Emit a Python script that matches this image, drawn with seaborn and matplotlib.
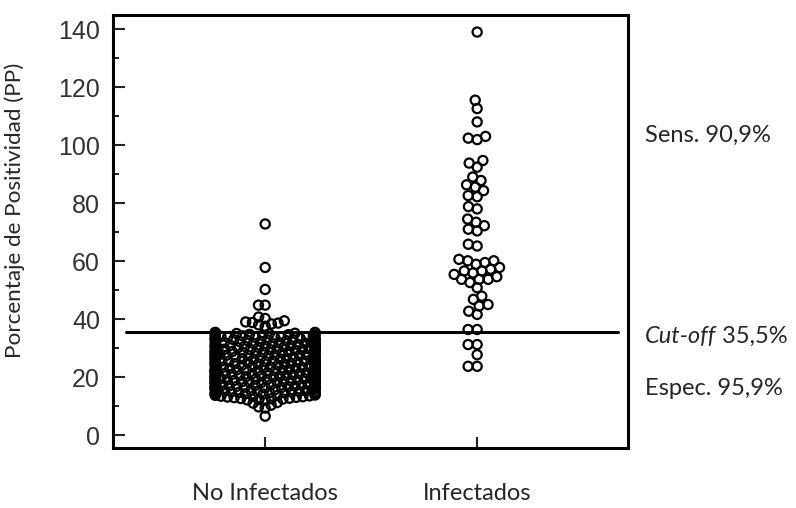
#%%
import numpy as np
import pandas as pd
import matplotlib.pyplot as plt
import seaborn as sns

#%%
# Datos (Porcentaje de Positividad)
grupos = ["No Infectados", "Infectados"]

pp_no_infectados = [
    6.5, 9.3, 9.7, 10.3, 11.0, 11.2,
    12.0, 12.1, 12.2, 12.4, 12.5, 12.6, 12.7, 12.9,
    13.0, 13.1, 13.2, 13.3, 13.4, 13.5, 13.6, 13.7, 13.8, 13.9,
    14.0, 14.1, 14.2, 14.3, 14.3, 14.4, 14.5, 14.6, 14.7, 14.8, 14.9, 14.9,
    15.0, 15.0, 15.1, 15.2, 15.3, 15.4, 15.5, 15.6, 15.7, 15.8, 15.9, 15.9,
    16.0, 16.0, 16.1, 16.2, 16.3, 16.4, 16.5, 16.5, 16.6, 16.7, 16.8, 16.9, 16.9,
    17.0, 17.0, 17.1, 17.2, 17.3, 17.3, 17.4, 17.5, 17.6, 17.7, 17.8, 17.8, 17.9, 17.9,
    18.0, 18.0, 18.1, 18.2, 18.2, 18.3, 18.4, 18.5, 18.5, 18.6, 18.7, 18.8, 18.8, 18.9, 18.9,
    19.0, 19.0, 19.1, 19.2, 19.2, 19.3, 19.4, 19.5, 19.5, 19.6, 19.7, 19.8, 19.8, 19.9, 19.9,
    20.0, 20.0, 20.1, 20.2, 20.2, 20.3, 20.4, 20.5, 20.5, 20.6, 20.7, 20.8, 20.8, 20.9, 20.9,
    21.0, 21.0, 21.1, 21.2, 21.3, 21.4, 21.5, 21.5, 21.6, 21.7, 21.8, 21.8, 21.9, 21.9,
    22.0, 22.0, 22.1, 22.2, 22.3, 22.4, 22.5, 22.5, 22.6, 22.7, 22.8, 22.9, 22.9,
    23.0, 23.0, 23.1, 23.2, 23.3, 23.4, 23.5, 23.5, 23.6, 23.7, 23.8, 23.9, 23.9,
    24.0, 24.1, 24.2, 24.3, 24.4, 24.5, 24.5, 24.6, 24.7, 24.8, 24.9, 24.9,
    25.0, 25.1, 25.2, 25.3, 25.4, 25.5, 25.5, 25.6, 25.7, 25.8, 25.9, 25.9,
    26.0, 26.1, 26.2, 26.3, 26.4, 26.5, 26.5, 26.6, 26.7, 26.8, 26.9, 26.9,
    27.0, 27.1, 27.2, 27.3, 27.4, 27.5, 27.5, 27.6, 27.7, 27.8, 27.9, 27.9,
    28.0, 28.1, 28.2, 28.3, 28.4, 28.5, 28.5, 28.6, 28.7, 28.8, 28.9, 28.9,
    29.0, 29.1, 29.2, 29.3, 29.4, 29.5, 29.5, 29.6, 29.7, 29.8, 29.9, 29.9,
    30.0, 30.1, 30.2, 30.3, 30.4, 30.5, 30.5, 30.6, 30.7, 30.8, 30.9, 30.9,
    31.0, 31.1, 31.2, 31.3, 31.4, 31.5, 31.6, 31.7, 31.8, 31.9, 31.9,
    32.0, 32.1, 32.2, 32.3, 32.4, 32.5, 32.6, 32.7, 32.8, 32.9, 32.9,
    33.0, 33.1, 33.2, 33.3, 33.4, 33.5, 33.6, 33.7, 33.8, 33.9, 33.9,
    34.0, 34.1, 34.2, 34.3, 34.4, 34.5, 34.6, 34.7, 34.8, 34.9,
    35.0, 35.1, 35.2, 35.3, 35.4, 35.4,
    37.5, 38.0, 38.3, 38.6, 38.8, 39.0, 39.4, 40.2, 40.7,
    44.8, 44.8, 50.2, 57.8, 72.8,
]

pp_infectados = [
    139.0, 115.5, 112.6, 108.0, 103.0, 102.4, 101.9,
    94.7, 93.8, 92.4, 89.0, 87.8, 86.3, 85.5, 84.3, 82.6, 82.2,
    78.8, 78.0, 74.5, 73.4, 72.2, 71.0, 70.4, 65.8, 65.2,
    60.6, 60.1, 60.1, 59.5, 58.9, 57.8, 57.2, 56.6, 56.6, 55.9, 55.4,
    54.6, 53.7, 53.7, 53.7, 52.6, 50.8, 47.9, 46.8, 45.0, 44.5, 42.7, 41.6,
    36.4, 36.4, 31.2, 31.2, 27.7, 23.7, 23.7,
]

cut_off = 35.5
textos = ["Sens. 90,9%", "Espec. 95,9%"]

#%%
sns.set_style("ticks")
plt.rcParams["font.family"] = ["Lato", "DejaVu Sans"]

fig, ax = plt.subplots(figsize=(7.96, 5.08), dpi=100)
fig.subplots_adjust(left=0.142, right=0.789, bottom=0.118, top=0.970)

# separacion entre grupos (el enjambre ocupa 0.8 unidades)
posicion = {"No Infectados": 0.0, "Infectados": 1.7}
# tamano usado para acomodar el enjambre (mas chico = puntos encimados)
tam_enjambre = {"No Infectados": 3.0, "Infectados": 4.6}
tam_marcador = 6.6

for grupo, valores in zip(grupos, [pp_no_infectados, pp_infectados]):
    df = pd.DataFrame({"x": posicion[grupo], "pp": valores})
    sns.swarmplot(data=df, x="x", y="pp", native_scale=True, orient="x",
                  size=tam_enjambre[grupo], color="white", edgecolor="black",
                  linewidth=1.6, warn_thresh=1, ax=ax)

ax.axhline(cut_off, xmin=0.025, xmax=0.98, color="black", lw=2.2)

ax.set_xlim(-1.22, 2.91)
ax.set_ylim(-4.5, 144.8)
ax.set_xticks([posicion[g] for g in grupos], grupos)
ax.set_yticks(range(0, 141, 20))
ax.set_yticks(range(10, 140, 20), minor=True)
ax.set_xlabel("")
ax.set_ylabel("Porcentaje de Positividad (PP)", fontsize=16.2, color="#262626")
ax.yaxis.set_label_coords(-0.17, 0.55)

for s in ax.spines.values():
    s.set_visible(True)
    s.set_linewidth(2.2)
    s.set_color("black")

ax.tick_params(axis="y", which="major", direction="in", length=8.6, width=1.5,
               pad=9.4, labelsize=18, labelcolor="#333333")
ax.tick_params(axis="y", which="minor", direction="in", length=4.3, width=1.5)
ax.tick_params(axis="x", direction="in", length=8, width=1.5, pad=25,
               labelsize=17, labelcolor="#262626")
for lbl in ax.get_yticklabels():
    lbl.set_fontfamily("Liberation Sans")

trans = ax.get_yaxis_transform()
ax.text(1.033, 103.4, textos[0], transform=trans, va="center", ha="left",
        fontsize=17, color="#262626", clip_on=False)
t = ax.text(1.033, 34.0, "Cut-off", transform=trans, va="center", ha="left",
            fontsize=17, style="italic", color="#262626", clip_on=False)
ax.annotate(" 35,5%", xy=(1, 0), xycoords=t, va="bottom", ha="left",
            fontsize=17, color="#262626")
ax.text(1.033, 16.0, textos[1], transform=trans, va="center", ha="left",
        fontsize=17, color="#262626", clip_on=False)

# se calcula el enjambre una vez, luego se agrandan los circulos
fig.canvas.draw()
for coll in ax.collections:
    coll.__dict__.pop("draw", None)
    coll.set_sizes([tam_marcador ** 2])
    coll.set_facecolor("none")

fig.savefig("out.png", dpi=100)
